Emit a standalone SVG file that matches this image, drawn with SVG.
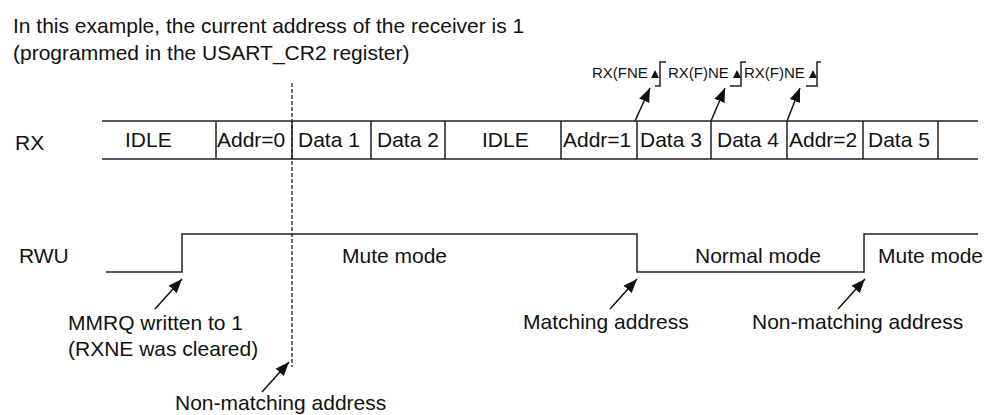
<svg xmlns="http://www.w3.org/2000/svg" width="984" height="415" viewBox="0 0 984 415">
<style>
text{font-family:"Liberation Sans",Arial,sans-serif;fill:#111}
.t{font-size:21px}
.s{font-size:15px}
.w{fill:none;stroke:#222;stroke-width:1.5}
.c{fill:none;stroke:#111;stroke-width:1.5}
.d{fill:none;stroke:#222;stroke-width:1.3;stroke-dasharray:4 2}
.h{fill:#111}
</style>
<defs>
<marker id="ah" markerWidth="15" markerHeight="12" refX="14" refY="6" orient="auto" markerUnits="userSpaceOnUse">
<path d="M0,0.5 L14,6 L0,11.5 z" fill="#111"/>
</marker>
</defs>
<rect width="984" height="415" fill="#fff"/>
<g id="header">
<text class="t" x="13" y="33">In this example, the current address of the receiver is 1</text>
<text class="t" x="13" y="60">(programmed in the USART_CR2 register)</text>
</g>
<g id="rx-signal">
<text class="t" x="15" y="150">RX</text>
<path class="w" d="M102,121 H978 M102,159 H978 M216,121 V159 M292,121 V159 M371,121 V159 M445,121 V159 M561,121 V159 M637,121 V159 M711,121 V159 M787,121 V159 M863,121 V159 M938,121 V159"/>
<text class="t" x="125" y="147">IDLE</text>
<text class="t" x="217" y="147">Addr=0</text>
<text class="t" x="298" y="147">Data 1</text>
<text class="t" x="377" y="147">Data 2</text>
<text class="t" x="482" y="147">IDLE</text>
<text class="t" x="563" y="147">Addr=1</text>
<text class="t" x="640" y="147">Data 3</text>
<text class="t" x="717" y="147">Data 4</text>
<text class="t" x="789" y="147">Addr=2</text>
<text class="t" x="868" y="147">Data 5</text>
</g>
<g id="rxne-labels">
<text class="s" x="592" y="78">RX(FNE</text>
<polygon class="h" points="651,78 659,78 655,70"/>
<path class="w" d="M655,86 H660 V62 H666"/>
<text class="s" x="668" y="78">RX(F)NE</text>
<polygon class="h" points="733,78 741,78 737,70"/>
<path class="w" d="M730,86 H741 V62 H746"/>
<text class="s" x="744" y="78">RX(F)NE</text>
<polygon class="h" points="809,78 817,78 813,70"/>
<path class="w" d="M806,86 H817 V62 H821"/>
</g>
<g id="rwu-signal">
<text class="t" x="19" y="263">RWU</text>
<path class="w" d="M106,272 H182 V234 H637 V272 H864 V234 H978"/>
<text class="t" x="342" y="263">Mute mode</text>
<text class="t" x="695" y="263">Normal mode</text>
<text class="t" x="878" y="263">Mute mode</text>
</g>
<g id="annotations">
<text class="t" x="68" y="330">MMRQ written to 1</text>
<text class="t" x="68" y="356">(RXNE was cleared)</text>
<text class="t" x="175" y="410">Non-matching address</text>
<text class="t" x="523" y="329">Matching address</text>
<text class="t" x="752" y="329">Non-matching address</text>
</g>
<g id="connectors">
<line class="d" x1="292" y1="83" x2="292" y2="367"/>
<line class="c" x1="155" y1="309" x2="182" y2="279" marker-end="url(#ah)"/>
<line class="c" x1="262" y1="392" x2="289" y2="362" marker-end="url(#ah)"/>
<line class="c" x1="610" y1="309" x2="637" y2="279" marker-end="url(#ah)"/>
<line class="c" x1="838" y1="309" x2="865" y2="279" marker-end="url(#ah)"/>
<line class="c" x1="635" y1="121" x2="650" y2="88" marker-end="url(#ah)"/>
<line class="c" x1="711" y1="121" x2="725" y2="88" marker-end="url(#ah)"/>
<line class="c" x1="787" y1="121" x2="800" y2="88" marker-end="url(#ah)"/>
</g>
</svg>
